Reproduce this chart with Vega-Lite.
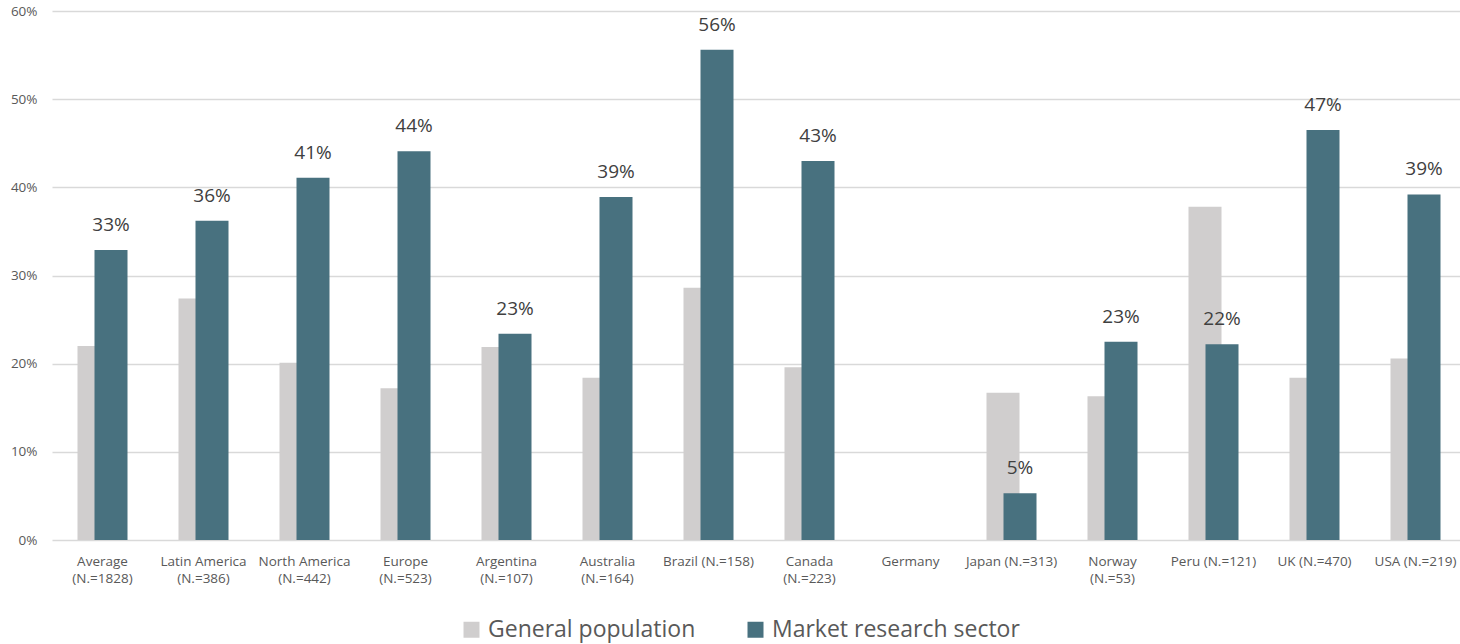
{
  "$schema": "https://vega.github.io/schema/vega-lite/v6.json",
  "width": 1414,
  "height": 529,
  "autosize": {"type": "none"},
  "padding": {"left": 52, "right": -6, "top": 11, "bottom": 104},
  "background": "white",
  "config": {"view": {"stroke": null}, "font": "Open Sans"},
  "data": {
    "values": [
      {"cat": "Average|(N.=1828)", "series": "General population", "value": 0.220},
      {"cat": "Average|(N.=1828)", "series": "Market research sector", "value": 0.329},
      {"cat": "Latin America|(N.=386)", "series": "General population", "value": 0.274},
      {"cat": "Latin America|(N.=386)", "series": "Market research sector", "value": 0.362},
      {"cat": "North America|(N.=442)", "series": "General population", "value": 0.201},
      {"cat": "North America|(N.=442)", "series": "Market research sector", "value": 0.411},
      {"cat": "Europe|(N.=523)", "series": "General population", "value": 0.172},
      {"cat": "Europe|(N.=523)", "series": "Market research sector", "value": 0.441},
      {"cat": "Argentina|(N.=107)", "series": "General population", "value": 0.219},
      {"cat": "Argentina|(N.=107)", "series": "Market research sector", "value": 0.234},
      {"cat": "Australia|(N.=164)", "series": "General population", "value": 0.184},
      {"cat": "Australia|(N.=164)", "series": "Market research sector", "value": 0.389},
      {"cat": "Brazil (N.=158)", "series": "General population", "value": 0.286},
      {"cat": "Brazil (N.=158)", "series": "Market research sector", "value": 0.556},
      {"cat": "Canada|(N.=223)", "series": "General population", "value": 0.196},
      {"cat": "Canada|(N.=223)", "series": "Market research sector", "value": 0.430},
      {"cat": "Japan (N.=313)", "series": "General population", "value": 0.167},
      {"cat": "Japan (N.=313)", "series": "Market research sector", "value": 0.053},
      {"cat": "Norway|(N.=53)", "series": "General population", "value": 0.163},
      {"cat": "Norway|(N.=53)", "series": "Market research sector", "value": 0.225},
      {"cat": "Peru (N.=121)", "series": "General population", "value": 0.378},
      {"cat": "Peru (N.=121)", "series": "Market research sector", "value": 0.222},
      {"cat": "UK (N.=470)", "series": "General population", "value": 0.184},
      {"cat": "UK (N.=470)", "series": "Market research sector", "value": 0.465},
      {"cat": "USA (N.=219)", "series": "General population", "value": 0.206},
      {"cat": "USA (N.=219)", "series": "Market research sector", "value": 0.392}
    ]
  },
  "encoding": {
    "x": {
      "field": "cat",
      "type": "nominal",
      "sort": null,
      "scale": {
        "domain": ["Average|(N.=1828)", "Latin America|(N.=386)", "North America|(N.=442)", "Europe|(N.=523)", "Argentina|(N.=107)", "Australia|(N.=164)", "Brazil (N.=158)", "Canada|(N.=223)", "Germany", "Japan (N.=313)", "Norway|(N.=53)", "Peru (N.=121)", "UK (N.=470)", "USA (N.=219)"],
        "paddingInner": 0,
        "paddingOuter": 0
      },
      "axis": {
        "title": null,
        "labelAngle": 0,
        "labelExpr": "split(datum.label, '|')",
        "labelFontSize": 13.5,
        "labelColor": "#595959",
        "labelPadding": 14,
        "labelLineHeight": 17,
        "labelLimit": 200,
        "ticks": false,
        "domain": false
      }
    },
    "y": {
      "field": "value",
      "type": "quantitative",
      "scale": {"domain": [0, 0.6]},
      "axis": {
        "title": null,
        "format": ".0%",
        "values": [0, 0.1, 0.2, 0.3, 0.4, 0.5, 0.6],
        "labelFontSize": 13.5,
        "labelColor": "#595959",
        "labelPadding": 15,
        "ticks": false,
        "domain": false,
        "gridColor": "#d9d9d9",
        "gridWidth": 1.5
      }
    }
  },
  "layer": [
    {
      "transform": [{"filter": "datum.series === 'General population'"}],
      "mark": {"type": "bar", "width": 33, "xOffset": -8.5},
      "encoding": {
        "color": {
          "field": "series",
          "type": "nominal",
          "scale": {"domain": ["General population", "Market research sector"], "range": ["#d0cece", "#48717f"]},
          "legend": {
            "title": null,
            "orient": "none",
            "legendX": 408,
            "legendY": 607,
            "direction": "horizontal",
            "symbolType": "square",
            "symbolSize": 256,
            "symbolStrokeWidth": 0,
            "symbolOpacity": 1,
            "labelFontSize": 23,
            "labelLimit": 500,
            "labelColor": "#595959",
            "labelOffset": 5,
            "columnPadding": 48
          }
        }
      }
    },
    {
      "transform": [{"filter": "datum.series === 'Market research sector'"}],
      "mark": {"type": "bar", "width": 33, "xOffset": 8.5},
      "encoding": {
        "color": {"field": "series", "type": "nominal"}
      }
    },
    {
      "transform": [{"filter": "datum.series === 'Market research sector'"}],
      "mark": {"type": "text", "xOffset": 8.5, "dy": -15, "baseline": "bottom", "fontSize": 19, "color": "#404040"},
      "encoding": {
        "text": {"field": "value", "type": "quantitative", "format": ".0%"}
      }
    }
  ]
}
